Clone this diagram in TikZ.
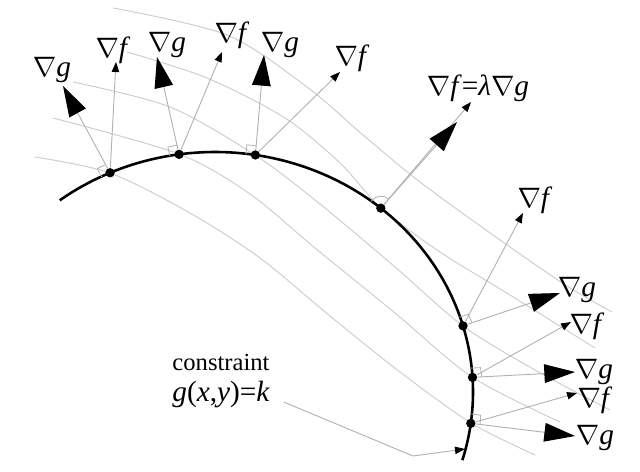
\documentclass[tikz,border=0pt]{standalone}
\usepackage{fontspec}
\setmainfont{Liberation Serif}
\usetikzlibrary{arrows.meta,calc}

\begin{document}
\begin{tikzpicture}[x=0.15mm,y=-0.15mm,
  level/.style={gray!40,line width=0.4pt},
  gradline/.style={gray!60,line width=0.4pt},
  bigtip/.style={gradline,-{Triangle[length=4.6mm,width=2.8mm,color=black]}},
  smalltip/.style={gradline,-{Triangle[length=1.5mm,width=1.1mm,color=black]}},
  dot/.style={circle,fill=black,inner sep=0pt,minimum size=1.4mm},
  lbl/.style={inner sep=0pt,font=\fontsize{12.5}{14}\selectfont},
  rmark/.style={gray!60,line width=0.35pt}]
\useasboundingbox (0,0) rectangle (640,472);

% level curves of f
\draw[level] plot[smooth] coordinates {(35,157) (110,173) (190,213) (260,258) (330,316) (400,372) (471,423) (535,455)};
\draw[level] plot[smooth] coordinates {(53,118) (179,154) (250,194) (315,248) (395,313) (472,377) (560,422)};
\draw[level] plot[smooth] coordinates {(73,82) (170,107) (255,155) (320,204) (395,267) (463,326) (535,370) (610,410)};
\draw[level] plot[smooth] coordinates {(127,52) (207,78) (285,118) (340,163) (381,208) (440,252) (510,295) (595,348)};
\draw[level] plot[smooth] coordinates {(113,8) (227,35) (307,87) (363,135) (420,182) (500,240) (567,286) (612,312)};

% constraint g(x,y)=k
\draw[line width=1.1pt] plot[domain=-16.5:127,samples=80,smooth] ({215+258*cos(\x)},{392-240*sin(\x)});

\foreach \n/\t in {1/114,2/98,3/81,4/50,5/16,6/3.5,7/-7.5}{
  \node[dot] (d\n) at ({215+258*cos(\t)},{392-240*sin(\t)}) {};
  \coordinate (n\n) at ({215+258*cos(\t+8)},{392-240*sin(\t+8)});
}

% arrow ends
\coordinate (g1) at (63,86);   \coordinate (f1) at (116,62);
\coordinate (g2) at (157,57);  \coordinate (f2) at (222,52);
\coordinate (g3) at (264,55);  \coordinate (f3) at (340,72);
\coordinate (g4) at (457,122); \coordinate (f4) at (471,102);
\coordinate (f5) at (523,213); \coordinate (g5) at (560,293);
\coordinate (f6) at (571,322); \coordinate (g6) at (575,372);
\coordinate (f7) at (577,393); \coordinate (g7) at (575,436);

% right angle marks
\foreach \n in {1,2,3,5,6,7}
  \draw[rmark] ($(d\n)!1.4mm!(g\n)$) -- ++($(d\n)!1.4mm!(n\n)-(d\n)$) -- ($(d\n)!1.4mm!(n\n)$);
\draw[rmark] ($(d4)!1.8mm!(n4)$) to[bend left=50] ($(d4)!1.8mm!(g4)$);

% gradients
\foreach \n in {1,2,3,5,6,7}{
  \draw[bigtip] (d\n) -- (g\n);
  \draw[smalltip] (d\n) -- (f\n);
}
\draw[smalltip] (d4) -- (f4);
\draw[bigtip] (d4) -- (g4);

% labels
\node[lbl] (lg1) at (52,70) {$\nabla$\textit{g}};
\node[lbl] (lf1) at (113,50) {$\nabla$\textit{f}};
\node[lbl] (lg2) at (167,45) {$\nabla$\textit{g}};
\node[lbl] (lf2) at (232,35) {$\nabla$\textit{f}};
\node[lbl] (lg3) at (280,45) {$\nabla$\textit{g}};
\node[lbl] (lf3) at (352,58) {$\nabla$\textit{f}};
\node[lbl] (lfg4) at (478,88) {$\nabla$\textit{f}=\textit{λ}$\nabla$\textit{g}};
\node[lbl] (lf5) at (535,200) {$\nabla$\textit{f}};
\node[lbl] (lg5) at (577,290) {$\nabla$\textit{g}};
\node[lbl] (lf6) at (587,326) {$\nabla$\textit{f}};
\node[lbl] (lg6) at (594,372) {$\nabla$\textit{g}};
\node[lbl] (lf7) at (595,400) {$\nabla$\textit{f}};
\node[lbl] (lg7) at (595,438) {$\nabla$\textit{g}};

\node[inner sep=0pt,anchor=west,font=\fontsize{10.5}{12}\selectfont] (cons) at (172,362) {constraint};
\node[inner sep=0pt,anchor=west,font=\fontsize{12.5}{15}\selectfont] (gxy) at (172,394) {\textit{g}(\textit{x},\textit{y})=\textit{k}};
\coordinate (kink) at (413,456);
\coordinate (hit) at (465,449);
\draw[smalltip] ([xshift=2mm,yshift=-1.2mm]gxy.east) -- (kink) -- (hit);
\end{tikzpicture}
\end{document}
